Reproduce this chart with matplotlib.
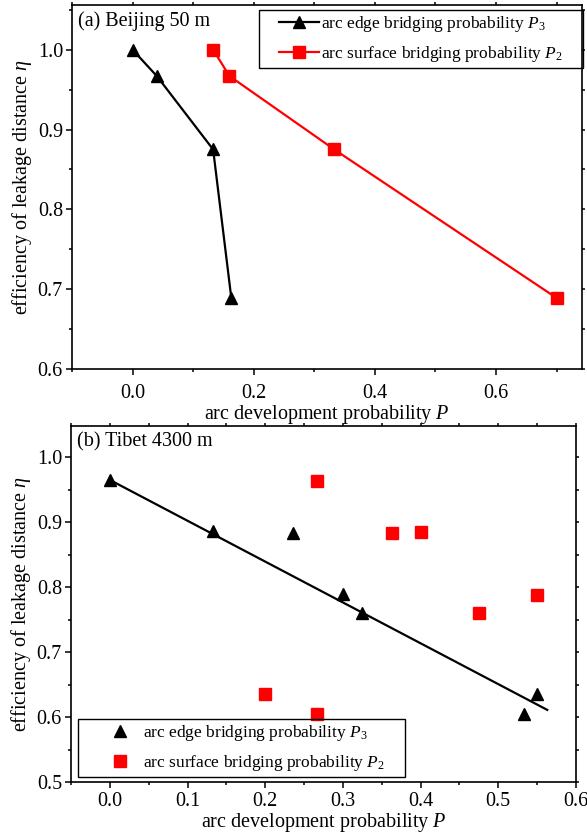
import matplotlib
matplotlib.use("Agg")
import matplotlib.pyplot as plt
from matplotlib.ticker import MultipleLocator, FormatStrFormatter
from matplotlib.patches import Rectangle

plt.rcParams['font.family'] = ['Liberation Serif', 'DejaVu Serif']
plt.rcParams['mathtext.fontset'] = 'custom'
plt.rcParams['mathtext.rm'] = 'Liberation Serif'
plt.rcParams['mathtext.it'] = 'Liberation Serif:italic'

# ---- data: (a) Beijing 50 m ----
a_p3_x = [0.0, 0.04, 0.133, 0.163]
a_p3_y = [1.0, 0.967, 0.875, 0.689]
a_p2_x = [0.133, 0.16, 0.333, 0.70]
a_p2_y = [1.0, 0.967, 0.875, 0.689]

# ---- data: (b) Tibet 4300 m ----
b_p3_x = [0.0, 0.133, 0.236, 0.30, 0.325, 0.533, 0.55]
b_p3_y = [0.965, 0.886, 0.884, 0.789, 0.760, 0.605, 0.636]
b_p2_x = [0.267, 0.363, 0.40, 0.475, 0.55, 0.20, 0.267]
b_p2_y = [0.964, 0.884, 0.885, 0.760, 0.788, 0.635, 0.604]
b_fit_x = [0.0, 0.563]
b_fit_y = [0.965, 0.611]

lab_p3 = 'arc edge bridging probability $P_3$'
lab_p2 = 'arc surface bridging probability $P_2$'
xlabel = 'arc development probability $P$'
ylabel = 'efficiency of leakage distance $\\eta$'

W, H = 587, 838
fig = plt.figure(figsize=(W / 100, H / 100), dpi=100)


def rect(l, r, t, b):
    return [l / W, 1 - b / H, (r - l) / W, (b - t) / H]


ax1 = fig.add_axes(rect(72, 582, 5, 369))
ax2 = fig.add_axes(rect(71, 576, 426, 782))

FS = 14.5
LFS = 12.5
HPAD = 16  # extra horizontal padding of legend frames (pixels)


def style(ax, xpad):
    for s in ax.spines.values():
        s.set_linewidth(1.2)
    ax.tick_params(which='both', direction='out', labelsize=FS, width=1.1,
                   top=True, right=True, labeltop=False, labelright=False)
    ax.tick_params(which='major', length=4.5)
    ax.tick_params(which='minor', length=2.5)
    ax.tick_params(axis='y', which='both', pad=2)
    ax.tick_params(axis='x', which='both', pad=xpad)
    ax.xaxis.set_major_formatter(FormatStrFormatter('%.1f'))
    ax.yaxis.set_major_formatter(FormatStrFormatter('%.1f'))


def short_far_ticks(ax):
    for axis in (ax.xaxis, ax.yaxis):
        for t in axis.get_major_ticks() + axis.get_minor_ticks():
            t.tick2line.set_markersize(2)


def px_to_axes(ax, x, y):
    inv = ax.transAxes.inverted()
    return tuple(inv.transform((x, H - y)))


# panel a
ax1.plot(a_p3_x, a_p3_y, color='black', lw=1.6, marker='^', ms=9, label=lab_p3)
ax1.plot(a_p2_x, a_p2_y, color='#ff0000', lw=1.6, marker='s', ms=8, label=lab_p2)
ax1.set_xlim(-0.1, 0.742)
ax1.set_ylim(0.6, 1.056)
ax1.xaxis.set_major_locator(MultipleLocator(0.2))
ax1.xaxis.set_minor_locator(MultipleLocator(0.1))
ax1.yaxis.set_major_locator(MultipleLocator(0.1))
ax1.yaxis.set_minor_locator(MultipleLocator(0.05))
style(ax1, 6)
ax1.set_xlabel(xlabel, fontsize=FS, labelpad=0)
ax1.set_ylabel(ylabel, fontsize=FS, labelpad=3)
ax1.text(0.012, 0.982, '(a) Beijing 50 m', transform=ax1.transAxes, fontsize=FS,
         ha='left', va='top')
leg1 = ax1.legend(loc='upper right', bbox_to_anchor=px_to_axes(ax1, 583 - HPAD, 10),
                  fontsize=LFS, frameon=False,
                  handlelength=2.3, borderpad=0.25,
                  labelspacing=0.55, handletextpad=0.1, borderaxespad=0)

# panel b
ax2.plot(b_fit_x, b_fit_y, color='black', lw=1.6)
ax2.plot(b_p3_x, b_p3_y, ls='none', color='black', marker='^', ms=9, label=lab_p3)
ax2.plot(b_p2_x, b_p2_y, ls='none', color='#ff0000', marker='s', ms=8, label=lab_p2)
ax2.set_xlim(-0.05, 0.6)
ax2.set_ylim(0.5, 1.048)
ax2.xaxis.set_major_locator(MultipleLocator(0.1))
ax2.xaxis.set_minor_locator(MultipleLocator(0.05))
ax2.yaxis.set_major_locator(MultipleLocator(0.1))
ax2.yaxis.set_minor_locator(MultipleLocator(0.05))
style(ax2, 3)
ax2.set_xlabel(xlabel, fontsize=FS, labelpad=0)
ax2.set_ylabel(ylabel, fontsize=FS, labelpad=3)
ax2.text(0.012, 0.982, '(b) Tibet 4300 m', transform=ax2.transAxes, fontsize=FS,
         ha='left', va='top')
leg2 = ax2.legend(loc='lower left', bbox_to_anchor=px_to_axes(ax2, 78 + HPAD, 777),
                  fontsize=LFS, frameon=False,
                  handlelength=2.5, borderpad=0.25,
                  labelspacing=0.55, handletextpad=0.05, borderaxespad=0)

fig.canvas.draw()
short_far_ticks(ax1)
short_far_ticks(ax2)

# legend frames, wider than the legend contents horizontally
r = fig.canvas.get_renderer()
for leg in (leg1, leg2):
    bb = leg.get_window_extent(r)
    x0, y0 = bb.x0 - HPAD, bb.y0
    w, h = bb.width + 2 * HPAD, bb.height
    fig.add_artist(Rectangle((x0 / W, y0 / H), w / W, h / H,
                             transform=fig.transFigure, fill=False,
                             edgecolor='black', lw=1.0, zorder=10))

fig.savefig('out.png', dpi=100)
